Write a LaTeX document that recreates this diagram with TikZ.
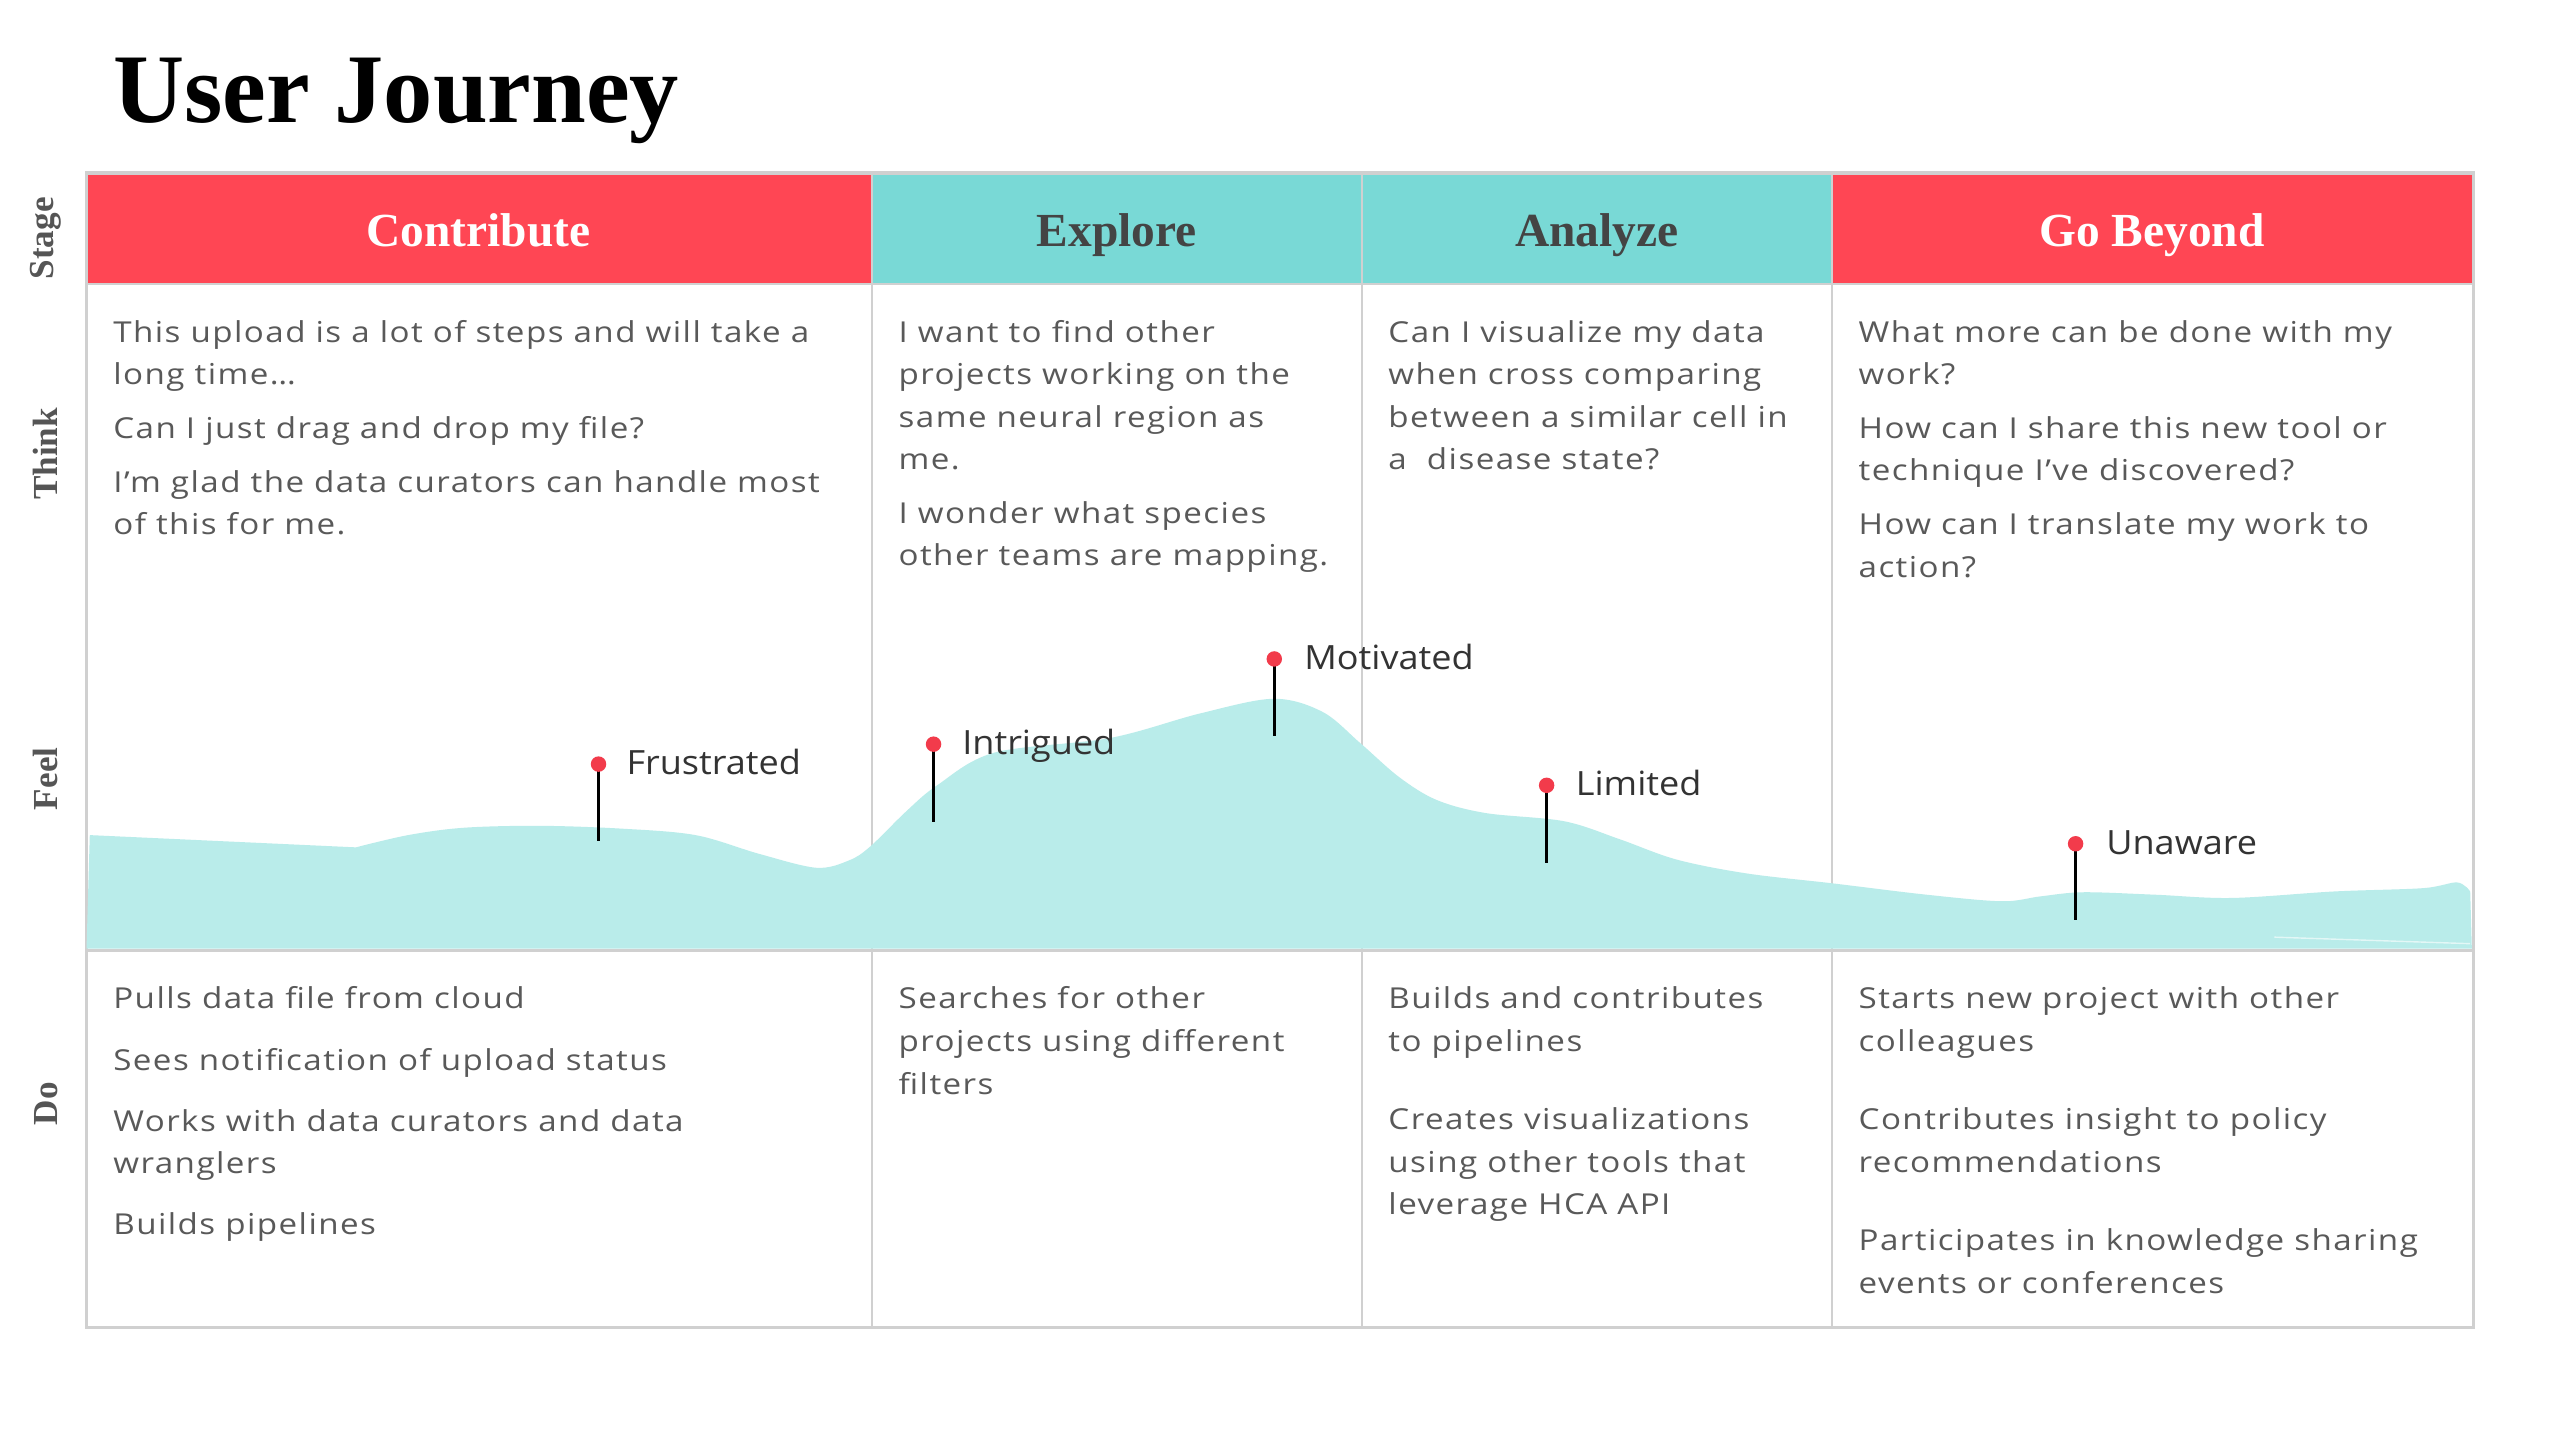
\documentclass[tikz,border=0pt]{standalone}
\usepackage{fontspec}
\setmainfont{Open Sans}
\newfontfamily\bodyfont[FakeStretch=1.15,LetterSpace=5]{Open Sans}
\newfontfamily\moodfont[FakeStretch=1.08]{Open Sans}
\newfontfamily\headfont{Liberation Serif}

\definecolor{stagered}{HTML}{FF4654}
\definecolor{stageteal}{HTML}{79D9D6}
\definecolor{feelfill}{HTML}{B9ECEA}
\definecolor{pinred}{HTML}{F23B4B}
\definecolor{gridgray}{HTML}{D0D0D0}
\definecolor{bodytext}{HTML}{595959}
\definecolor{feeltext}{HTML}{333333}
\definecolor{rowtext}{HTML}{555555}
\definecolor{darkhead}{HTML}{444444}

% cell text: first line baseline is the node's base
\newcommand\celltext[1]{\parbox[t]{330pt}{\raggedright\bodyfont\fontsize{8.2pt}{12.1pt}\selectfont\setlength\parskip{0pt}#1}}

\begin{document}
\begin{tikzpicture}[x=0.016327cm,y=-0.016327cm,
  gridline/.style={draw=gridgray,line width=0.6pt},
  outerline/.style={draw=gridgray,line width=0.9pt},
  stagehead/.style={anchor=base,font=\headfont\bfseries\fontsize{13.5pt}{16pt}\selectfont,inner sep=0},
  rowlabel/.style={font=\headfont\bfseries\fontsize{10pt}{12pt}\selectfont,text=rowtext,rotate=90,inner sep=0},
  cell/.style={anchor=base west,inner sep=0,text=bodytext},
  pin/.style={circle,fill=pinred,inner sep=0,minimum size=4.4pt},
  stem/.style={draw=black,line width=0.75pt},
  mood/.style={anchor=base west,inner sep=0,text=feeltext,font=\moodfont\fontsize{9.5pt}{12pt}\selectfont},
]
\useasboundingbox (0,0) rectangle (1568,881);
\fill[white] (0,0) rectangle (1568,881);

% title
\node[anchor=base west,inner sep=0,font=\headfont\bfseries\fontsize{28pt}{32pt}\selectfont] (title) at (69,75) {User Journey};

% stage header cells
\fill[stagered]  (53,106) rectangle (534,174);
\fill[stageteal] (534,106) rectangle (1122,174);
\fill[stagered]  (1122,106) rectangle (1515,174);

% grid
\draw[gridline] (534,106) -- (534,813);
\draw[gridline] (834,106) -- (834,813);
\draw[gridline] (1122,106) -- (1122,813);
\draw[gridline] (53,174) -- (1515,174);
\draw[outerline] (53,106) rectangle (1515,813);

% feel curve
\fill[feelfill] (53,581) -- (55,511.5) -- (218,519)
  -- plot[smooth,tension=0.55] coordinates {(218,519) (250,511.5) (284,507) (330,505.8) (380,507.5) (426,511.5) (465,523) (500,531.5) (520,527) (533,518.5) (555,497) (574,481) (609,461) (680,452) (735,437) (780,428) (810,436) (833,455) (857,476) (880,490) (910,498) (958,503) (992,514) (1027,526.5) (1070,535) (1122,541) (1180,548) (1226,552) (1250,549) (1276,546.5) (1320,548) (1367,550) (1430,546) (1484,544) (1505,540.5) (1513,546)}
  -- (1514,581) -- cycle;
\draw[white,opacity=0.6,line width=0.4pt] (1393,574) -- (1513,578);

% feel / do separator
\draw[outerline] (53,582) -- (1515,582);

% stage names
\node[stagehead,text=white] (sContribute) at (293,151) {Contribute};
\node[stagehead,text=darkhead] (sExplore) at (684,151) {Explore};
\node[stagehead,text=darkhead] (sAnalyze) at (978,151) {Analyze};
\node[stagehead,text=white] (sBeyond) at (1318,151) {Go Beyond};

% row labels
\node[rowlabel] (lStage) at (28,146) {Stage};
\node[rowlabel] (lThink) at (28,278) {Think};
\node[rowlabel] (lFeel) at (28,477) {Feel};
\node[rowlabel] (lDo) at (28,676) {Do};

% think row
\node[cell] (t1) at (69,209.5) {\celltext{This upload is a lot of steps and will take a\\ long time…\\[3.2pt]
Can I just drag and drop my file?\\[3.2pt]
I’m glad the data curators can handle most\\ of this for me.}};
\node[cell] (t2) at (550,209.5) {\celltext{I want to find other\\ projects working on the\\ same neural region as\\ me.\\[3.2pt]
I wonder what species\\ other teams are mapping.}};
\node[cell] (t3) at (850,209.5) {\celltext{Can I visualize my data\\ when cross comparing\\ between a similar cell in\\ a\ \ disease state?}};
\node[cell] (t4) at (1138,209.5) {\celltext{What more can be done with my\\ work?\\[3.2pt]
How can I share this new tool or\\ technique I’ve discovered?\\[3.2pt]
How can I translate my work to\\ action?}};

% do row
\node[cell] (d1) at (69,618) {\celltext{Pulls data file from cloud\\[5.3pt]
Sees notification of upload status\\[5.3pt]
Works with data curators and data\\ wranglers\\[5.3pt]
Builds pipelines}};
\node[cell] (d2) at (550,618) {\celltext{Searches for other\\ projects using different\\ filters}};
\node[cell] (d3) at (850,618) {\celltext{Builds and contributes\\ to pipelines\\[10.2pt]
Creates visualizations\\ using other tools that\\ leverage HCA API}};
\node[cell] (d4) at (1138,618) {\celltext{Starts new project with other\\ colleagues\\[10.2pt]
Contributes insight to policy\\ recommendations\\[10.2pt]
Participates in knowledge sharing\\ events or conferences}};

% feel pins
\coordinate (fTop) at (366.6,468);   \coordinate (fBot) at (366.6,515.4);
\coordinate (iTop) at (571.8,455.8); \coordinate (iBot) at (571.8,503.2);
\coordinate (mTop) at (780.5,403.6); \coordinate (mBot) at (780.5,451);
\coordinate (lTop) at (947.3,481);   \coordinate (lBot) at (947.3,528.7);
\coordinate (uTop) at (1271.3,516.8);\coordinate (uBot) at (1271.3,563.8);
\foreach \p in {f,i,m,l,u}{\draw[stem] (\p Top) -- (\p Bot);}
\node[pin] (pFrustrated) at (fTop) {};
\node[pin] (pIntrigued) at (iTop) {};
\node[pin] (pMotivated) at (mTop) {};
\node[pin] (pLimited) at (lTop) {};
\node[pin] (pUnaware) at (uTop) {};

\node[mood] (mFrustrated) at (383.3,474.5) {Frustrated};
\node[mood] (mIntrigued) at (589,462.3) {Intrigued};
\node[mood] (mMotivated) at (798.5,410.1) {Motivated};
\node[mood] (mLimited) at (964.8,487.5) {Limited};
\node[mood] (mUnaware) at (1289.7,523.3) {Unaware};
\end{tikzpicture}
\end{document}
